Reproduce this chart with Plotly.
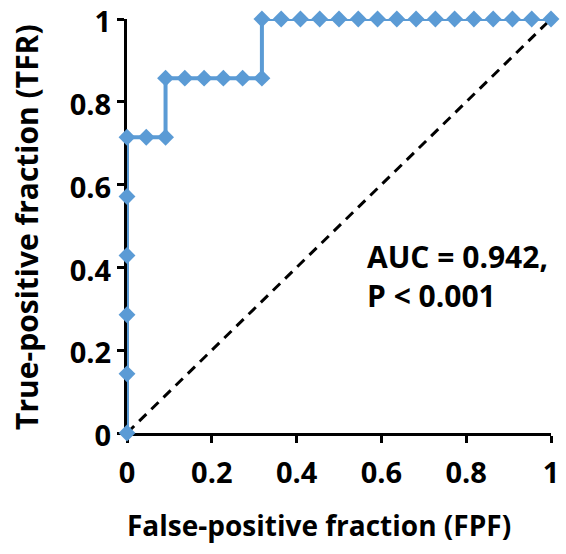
import plotly.graph_objects as go

fpf = [0, 0, 0, 0, 0, 0, 1/22, 2/22, 2/22, 3/22, 4/22, 5/22, 6/22, 7/22,
       7/22, 8/22, 9/22, 10/22, 11/22, 12/22, 13/22, 14/22, 15/22, 16/22, 17/22,
       18/22, 19/22, 20/22, 21/22, 22/22]
tfr = [0, 1/7, 2/7, 3/7, 4/7, 5/7, 5/7, 5/7, 6/7, 6/7, 6/7, 6/7, 6/7, 6/7,
       1, 1, 1, 1, 1, 1, 1, 1, 1, 1, 1, 1, 1, 1, 1, 1]
ref_x = [0, 1]
ref_y = [0, 1]
tick_vals = [0, 0.2, 0.4, 0.6, 0.8, 1]
tick_text = ["0", "0.2", "0.4", "0.6", "0.8", "1"]

FONT = "Open Sans"

fig = go.Figure()
fig.add_trace(go.Scatter(x=ref_x, y=ref_y, mode="lines",
                         line=dict(color="black", width=3, dash="10px,7px"),
                         cliponaxis=False, hoverinfo="skip"))
fig.add_trace(go.Scatter(x=fpf, y=tfr, mode="lines+markers",
                         line=dict(color="#5B9BD5", width=4),
                         marker=dict(symbol="diamond", size=13, color="#5B9BD5"),
                         cliponaxis=False))

axis_common = dict(range=[0, 1], tickvals=tick_vals, ticktext=tick_text,
                   showgrid=False, zeroline=False, showline=True,
                   linecolor="black", linewidth=3, ticks="outside",
                   ticklen=7, tickwidth=3, tickcolor="black", automargin=False,
                   ticklabeloverflow="allow", layer="below traces",
                   tickfont=dict(family=FONT, size=29, color="black", weight="bold"))

fig.update_xaxes(**axis_common, ticklabelstandoff=5)
fig.update_yaxes(**axis_common, ticklabelshift=3)

fig.add_annotation(x=0.4517, y=-0.222, xref="paper", yref="paper",
                   text="<b>False-positive fraction (FPF)</b>",
                   showarrow=False, xanchor="center", yanchor="middle",
                   font=dict(family=FONT, size=28, color="black"))
fig.add_annotation(x=-0.236, y=0.4976, xref="paper", yref="paper",
                   text="<b>True-positive fraction (TFR)</b>", textangle=-90,
                   showarrow=False, xanchor="center", yanchor="middle",
                   font=dict(family=FONT, size=30, color="black"))

fig.add_annotation(x=0.562, y=0.38, xref="x", yref="y",
                   text="<b>AUC = 0.942,<br>P < 0.001</b>",
                   showarrow=False, xanchor="left", yanchor="middle", align="left",
                   font=dict(family=FONT, size=30, color="black"))

fig.update_layout(width=566, height=554, showlegend=False,
                  plot_bgcolor="white", paper_bgcolor="white",
                  margin=dict(l=127, r=15, t=19, b=121))

fig.write_html("out.html", config={"displayModeBar": False},
               post_script="document.body.style.margin='0';")
